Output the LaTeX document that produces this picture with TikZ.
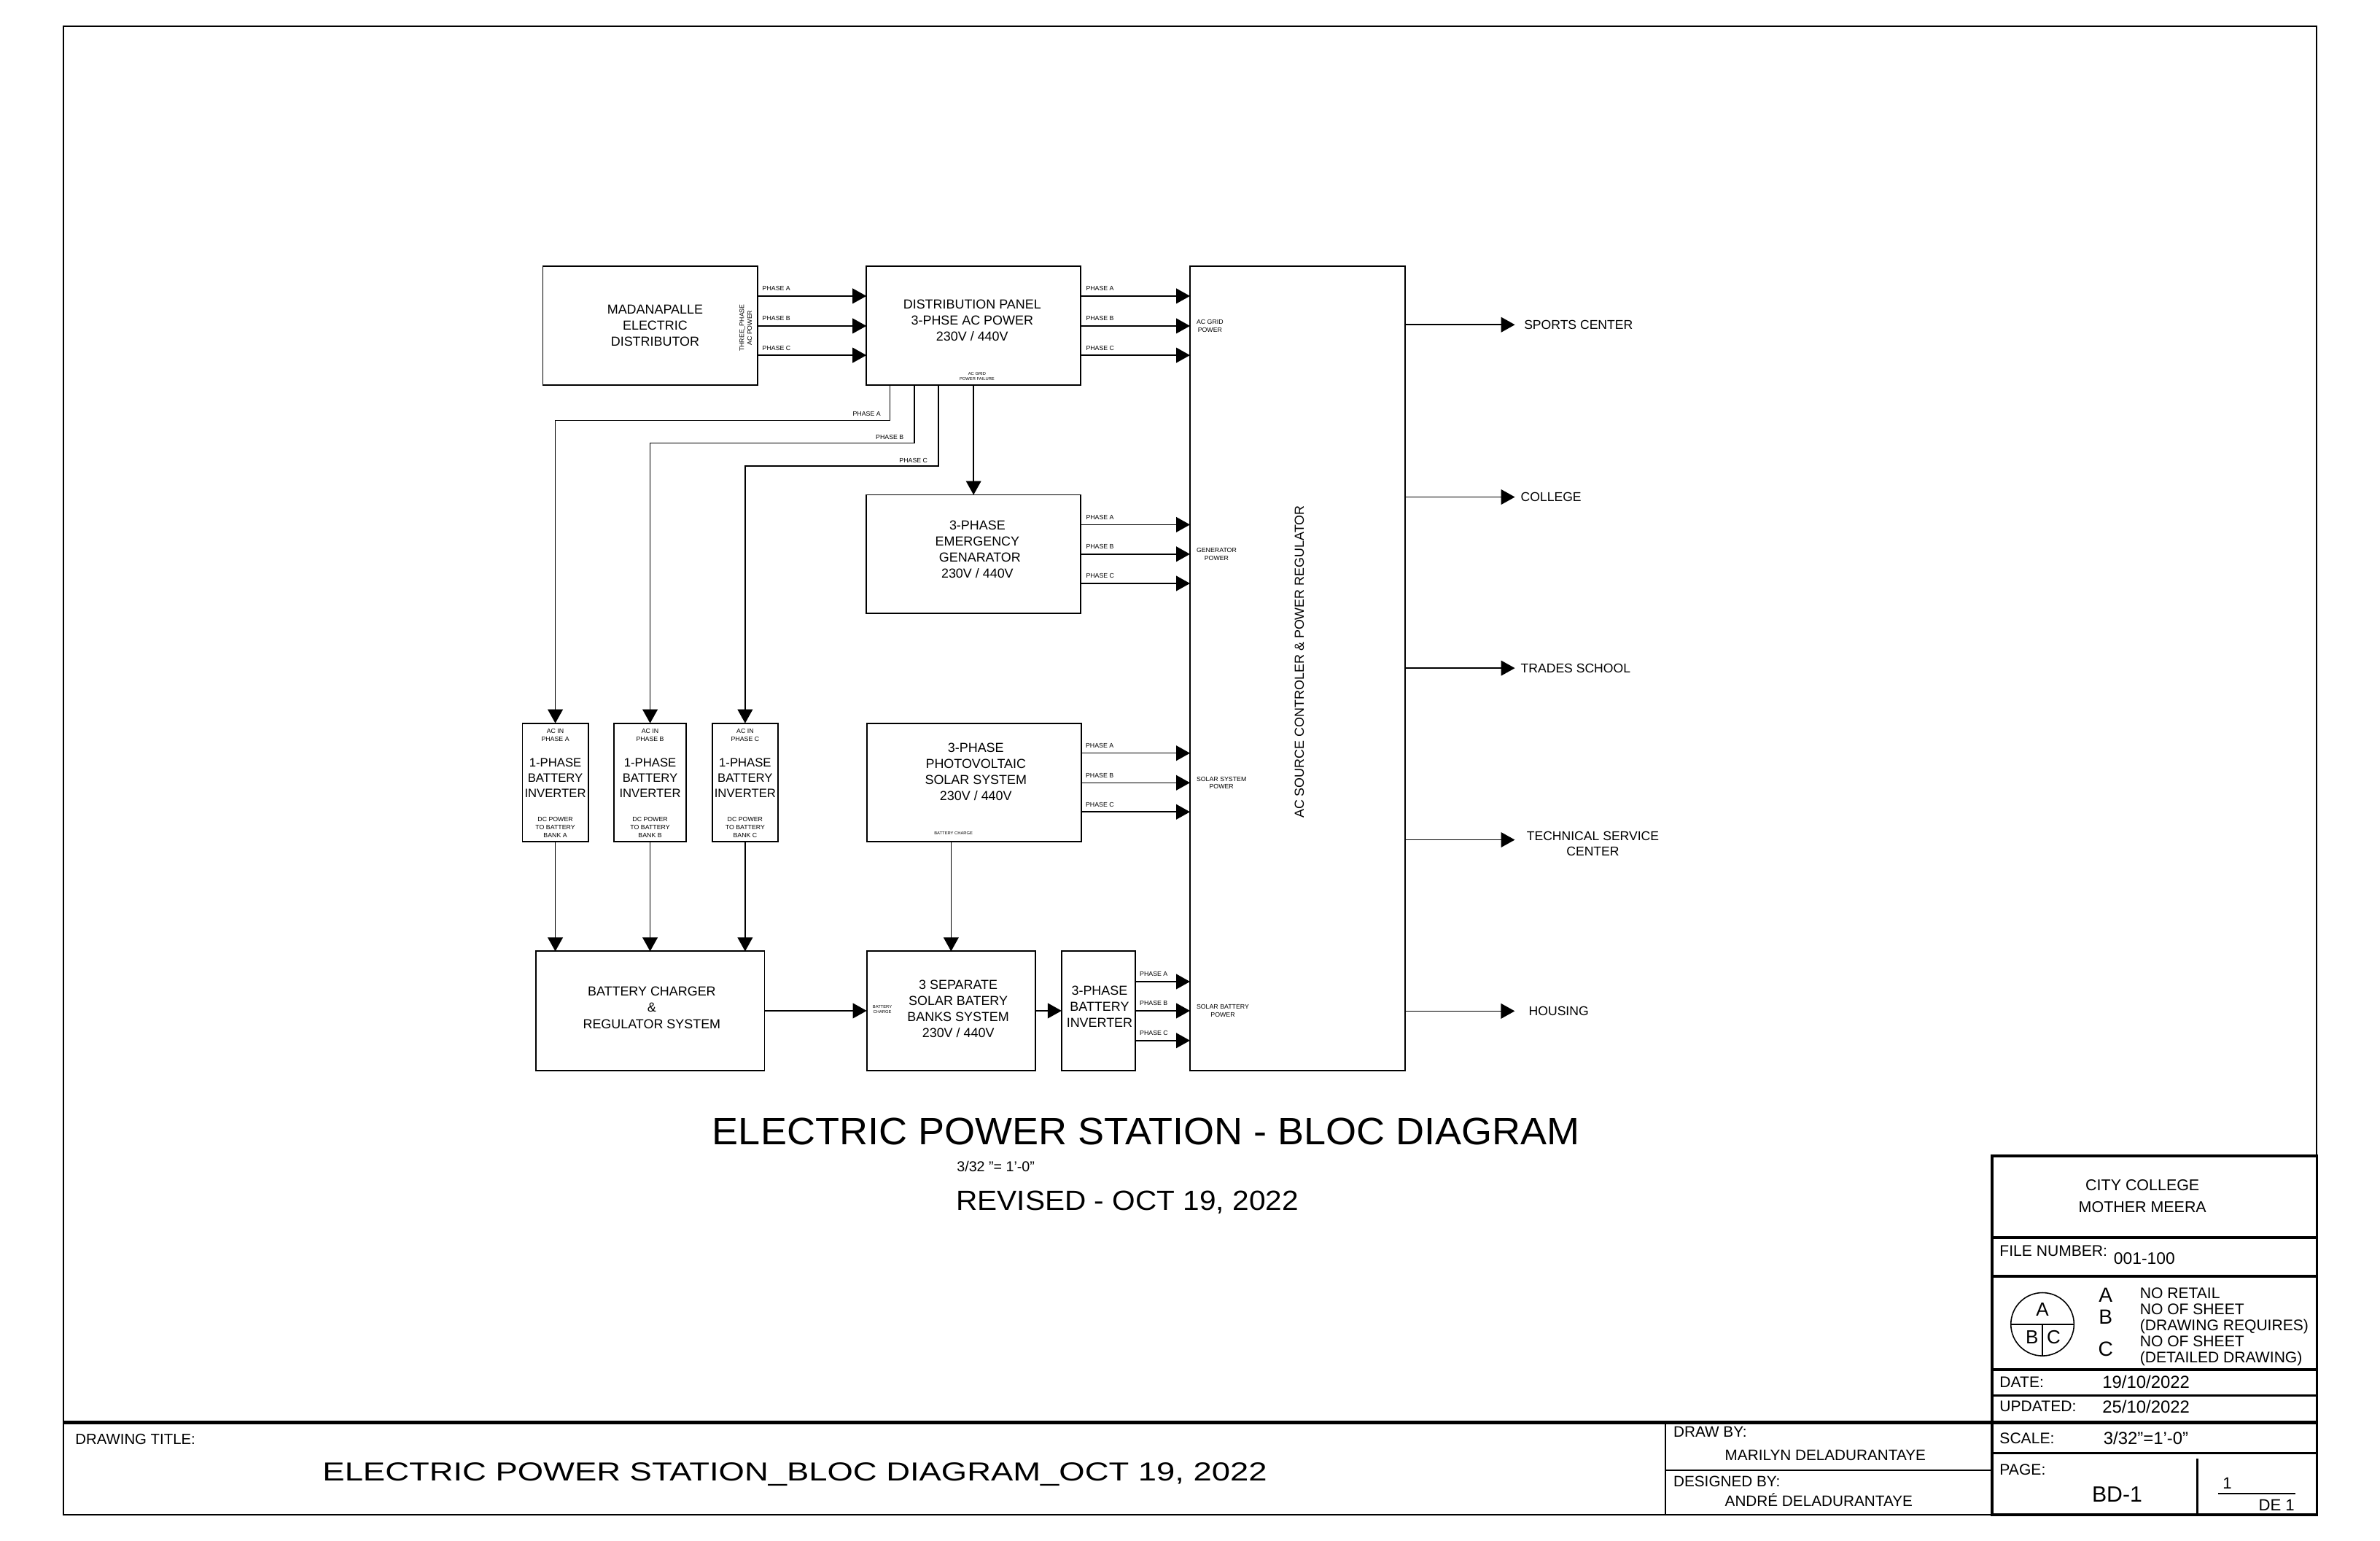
\documentclass[tikz,border=0pt]{standalone}
\usepackage{fontspec}
\setmainfont{Liberation Sans}
\usepackage{graphicx}
\usetikzlibrary{arrows.meta}
\newlength\ux
\setlength\ux{0.20816mm}
\newcommand\fitbox[3]{\resizebox{#1}{#2}{#3}}
\begin{document}
\begin{tikzpicture}[x=0.20816mm, y=-0.20816mm,
  box/.style={draw, line width=0.55pt, inner sep=0pt, outer sep=0pt},
  arr/.style={line width=0.45pt, -{Triangle[length=5.4pt,width=5.9pt]}},
  wire/.style={line width=0.45pt},
  lbl/.style={font=\fontsize{5.1}{6.3}\selectfont, align=center, inner sep=0pt},
  ilbl/.style={font=\fontsize{4.75}{6.1}\selectfont, align=center, inner sep=0pt},
  tiny/.style={font=\fontsize{2.5}{3.1}\selectfont, align=center, inner sep=0pt},
  micro/.style={font=\fontsize{1.65}{1.9}\selectfont, align=center, inner sep=0pt},
  ph/.style={font=\fontsize{2.5}{3}\selectfont, inner sep=0pt},
  dest/.style={font=\fontsize{5}{5.9}\selectfont, inner sep=0pt, align=center},
  tb/.style={font=\fontsize{6}{7}\selectfont, inner sep=0pt, text height=4.3pt, text depth=0pt},
  tbv/.style={font=\fontsize{6.8}{7.5}\selectfont, inner sep=0pt, text height=4.9pt, text depth=0pt},
  tbline/.style={line width=1.1pt},
  tbthin/.style={line width=0.75pt}
]
\fill[white] (0,0) rectangle (1568,1014.6);
\useasboundingbox (0,0) rectangle (1568,1014.6);

% ---------------- blocks ----------------
\node[box, minimum width=141.3\ux, minimum height=78.3\ux] (mad) at (428.3,214.7) {};
\node[box, minimum width=141.2\ux, minimum height=78.3\ux] (dist) at (641.4,214.7) {};
\node[box, minimum width=141.6\ux, minimum height=529.5\ux] (ac) at (854.8,440.3) {};
\node[box, minimum width=141.2\ux, minimum height=78.1\ux] (gen) at (641.4,365.0) {};
\node[box, minimum width=43.3\ux, minimum height=78.1\ux] (invA) at (365.85,515.45) {};
\node[box, minimum width=47.2\ux, minimum height=78.1\ux] (invB) at (428.3,515.45) {};
\node[box, minimum width=43.0\ux, minimum height=78.1\ux] (invC) at (490.9,515.45) {};
\node[box, minimum width=141.2\ux, minimum height=78.1\ux] (pv) at (641.6,515.45) {};
\node[box, minimum width=150.8\ux, minimum height=78.4\ux] (chg) at (428.3,665.8) {};
\node[box, minimum width=111.2\ux, minimum height=78.4\ux] (banks) at (626.6,665.8) {};
\node[box, minimum width=48.6\ux, minimum height=78.4\ux] (inv3) at (723.7,665.8) {};

% ---------------- block texts ----------------
\node[lbl] (madT) at (431.6,214.3) {MADANAPALLE\\ELECTRIC\\DISTRIBUTOR};
\node[lbl] (distT) at (640.5,210.9) {DISTRIBUTION PANEL\\3-PHSE AC POWER\\230V / 440V};
\node[lbl] (genT) at (643.9,361.9) {3-PHASE\\EMERGENCY\\\hspace*{2pt}GENARATOR\\230V / 440V};
\node[lbl] (pvT) at (642.9,508.4) {3-PHASE\\PHOTOVOLTAIC\\SOLAR SYSTEM\\230V / 440V};
\node[lbl] (chgT) at (429.4,663.8) {BATTERY CHARGER\\\&\\REGULATOR SYSTEM};
\node[lbl] (banksT) at (631.3,664.6) {3 SEPARATE\\SOLAR BATERY\\BANKS SYSTEM\\230V / 440V};
\node[lbl] (inv3T) at (724.4,663.2) {3-PHASE\\BATTERY\\INVERTER};
\node[lbl, rotate=90] (acT) at (856,436) {AC SOURCE CONTROLER \& POWER REGULATOR};

\foreach \n/\x/\p in {A/365.85/A,B/428.3/B,C/490.9/C}{
  \node[ilbl] (inv\n T) at (\x,512.4) {1-PHASE\\BATTERY\\INVERTER};
  \node[tiny] (inv\n in) at (\x,484.2) {AC IN\\PHASE \p};
  \node[tiny] (inv\n dc) at (\x,544.9) {DC POWER\\TO BATTERY\\BANK \p};
}

\node[tiny, rotate=90] (madout) at (491.3,216) {THREE\_PHASE\\AC POWER};
\node[micro] (fail) at (643.7,247.9) {AC GRID\\POWER FAILURE};
\node[micro] (pvch) at (628.2,549) {BATTERY CHARGE};
\node[micro] (bkch) at (581.3,665) {BATTERY\\CHARGE};

\node[tiny, anchor=west] (acin1) at (788,214.8) {AC GRID\\POWER};
\node[tiny, anchor=west] (acin2) at (788,365.0) {GENERATOR\\POWER};
\node[tiny, anchor=west] (acin3) at (788,515.7) {SOLAR SYSTEM\\POWER};
\node[tiny, anchor=west] (acin4) at (788,666.0) {SOLAR BATTERY\\POWER};

% ---------------- three-phase buses ----------------
\foreach \y/\p in {195.0/A,214.7/B,234.0/C}{
  \draw[arr] (mad.east |- 0,\y) -- (dist.west |- 0,\y);
  \node[ph, anchor=base west] (mp\p) at (502,\y-3.4) {PHASE \p};
  \draw[arr] (dist.east |- 0,\y) -- (ac.west |- 0,\y);
  \node[ph, anchor=base west] (dp\p) at (715.2,\y-3.4) {PHASE \p};
}
\foreach \y/\p in {345.6/A,365.0/B,384.3/C}{
  \draw[arr] (gen.east |- 0,\y) -- (ac.west |- 0,\y);
  \node[ph, anchor=base west] (gp\p) at (715.2,\y-3.4) {PHASE \p};
}
\foreach \y/\p in {496.1/A,515.6/B,534.8/C}{
  \draw[arr] (pv.east |- 0,\y) -- (ac.west |- 0,\y);
  \node[ph, anchor=base west] (sp\p) at (715.0,\y-3.4) {PHASE \p};
}
\foreach \y/\p in {646.6/A,665.8/B,685.4/C}{
  \draw[arr] (inv3.east |- 0,\y) -- (ac.west |- 0,\y);
  \node[ph, anchor=base west] (ip\p) at (750.6,\y-3.4) {PHASE \p};
}

% ---------------- feeds to the single-phase inverters ----------------
\draw[arr] (586.3,0 |- dist.south) |- (invA.north |- 0,277.0) -- (invA.north);
\draw[arr] (602.4,0 |- dist.south) |- (invB.north |- 0,291.8) -- (invB.north);
\draw[arr] (618.2,0 |- dist.south) |- (invC.north |- 0,307.1) -- (invC.north);
\node[ph, anchor=base east] (fpA) at (580.5,274.0) {PHASE A};
\node[ph, anchor=base east] (fpB) at (595.7,289.6) {PHASE B};
\node[ph, anchor=base east] (fpC) at (611.4,304.6) {PHASE C};

\draw[arr] (dist.south) -- (gen.north);
\draw[arr] (invA.south) -- (invA.south |- chg.north);
\draw[arr] (invB.south) -- (invB.south |- chg.north);
\draw[arr] (invC.south) -- (invC.south |- chg.north);
\draw[arr] (banks.north |- pv.south) -- (banks.north);
\draw[arr] (chg.east) -- (banks.west);
\draw[arr] (banks.east) -- (inv3.west);

% ---------------- outputs ----------------
\node[dest, anchor=west] (sports) at (1003.8,213.9) {SPORTS CENTER};
\node[dest, anchor=west] (college) at (1001.6,327.4) {COLLEGE};
\node[dest, anchor=west] (trades) at (1001.6,440.1) {TRADES SCHOOL};
\node[dest, anchor=north] (tech) at (1049.4,547.4) {TECHNICAL SERVICE\\CENTER};
\node[dest, anchor=west] (housing) at (1006.9,666.0) {HOUSING};
\coordinate (techin) at (998,553.2);
\draw[arr, shorten >=3.4pt] (ac.east |- sports.west) -- (sports.west);
\draw[arr, shorten >=2.1pt] (ac.east |- college.west) -- (college.west);
\draw[arr, shorten >=2.1pt] (ac.east |- trades.west) -- (trades.west);
\draw[arr] (ac.east |- techin) -- (techin);
\draw[arr, shorten >=5.3pt] (ac.east |- housing.west) -- (housing.west);

% ---------------- titles ----------------
\node[inner sep=0pt, anchor=base] (title) at (755.1,754.2) {\fitbox{338.5pt}{10.4pt}{ELECTRIC POWER STATION - BLOC DIAGRAM}};
\node[inner sep=0pt, anchor=base west, font=\fontsize{5.6}{6}\selectfont] (scl) at (630.1,771.8) {3/32 "= 1'-0"};
\node[inner sep=0pt, anchor=base west] (rev) at (629.7,797.0) {\fitbox{133.5pt}{7.55pt}{REVISED - OCT 19, 2022}};

% ---------------- sheet frame ----------------
\draw[line width=0.6pt] (41.6,17.3) rectangle (1526.4,997.6);
\draw[line width=1.4pt] (41.6,936.8) -- (1526.4,936.8);
\draw[tbline] (1312.3,761.4) rectangle (1526.4,997.6);
\draw[tbline] (1312.3,815.1) -- (1526.4,815.1);
\draw[tbline] (1312.3,840.7) -- (1526.4,840.7);
\draw[tbline] (1312.3,902.3) -- (1526.4,902.3);
\draw[tbline] (1312.3,919.2) -- (1526.4,919.2);
\draw[tbthin] (1312.3,957.3) -- (1526.4,957.3);
\draw[tbthin] (1447.5,960.8) -- (1447.5,997.6);
\draw[tbthin] (1097.2,936.8) -- (1097.2,997.6);
\draw[tbthin] (1097.2,968.5) -- (1312.3,968.5);

% bottom strip texts
\node[tb, anchor=west, font=\fontsize{5.8}{6}\selectfont, text height=4.15pt] (dtl) at (49.3,947.7) {DRAWING TITLE:};
\node[inner sep=0pt, anchor=base] (dtitle) at (523.65,975.2) {\fitbox{368.5pt}{7.1pt}{ELECTRIC POWER STATION\_BLOC DIAGRAM\_OCT 19, 2022}};
\node[tb, anchor=west, font=\fontsize{5.9}{6}\selectfont] (drawby) at (1102.2,943.2) {DRAW BY:};
\node[tb, anchor=west, font=\fontsize{5.9}{6}\selectfont] (drawer) at (1136.1,958.4) {MARILYN DELADURANTAYE};
\node[tb, anchor=west, font=\fontsize{5.9}{6}\selectfont] (desby) at (1102.2,975.5) {DESIGNED BY:};
\node[tb, anchor=west, font=\fontsize{5.9}{6}\selectfont] (designer) at (1136.1,988.8) {ANDRÉ DELADURANTAYE};

% right column texts
\node[inner sep=0pt, align=center, font=\fontsize{6.1}{8.4}\selectfont] (school) at (1411.5,787.9) {CITY COLLEGE\\MOTHER MEERA};
\node[tb, anchor=west] (fnl) at (1317.1,824.0) {FILE NUMBER:};
\node[tbv, anchor=west, font=\fontsize{6.5}{7}\selectfont, text height=4.65pt] (fnv) at (1392.3,828.7) {001-100};

\node[draw, circle, line width=0.45pt, minimum size=41.6\ux, inner sep=0pt] (circ) at (1345.6,872.3) {};
\draw[line width=0.45pt] (circ.west) -- (circ.east);
\draw[line width=0.45pt] (circ.center) -- (circ.south);
\node[inner sep=0pt, font=\fontsize{7.4}{8}\selectfont, text height=5.3pt, text depth=0pt] (cA) at (1345.6,862.4) {A};
\node[inner sep=0pt, font=\fontsize{7.4}{8}\selectfont, text height=5.3pt, text depth=0pt] (cB) at (1338.7,880.6) {B};
\node[inner sep=0pt, font=\fontsize{7.4}{8}\selectfont, text height=5.3pt, text depth=0pt] (cC) at (1353.0,880.6) {C};
\node[inner sep=0pt, font=\fontsize{8}{8}\selectfont, text height=5.7pt, text depth=0pt] (kA) at (1387.2,852.7) {A};
\node[inner sep=0pt, font=\fontsize{8}{8}\selectfont, text height=5.7pt, text depth=0pt] (kB) at (1387.2,867.1) {B};
\node[inner sep=0pt, font=\fontsize{8}{8}\selectfont, text height=5.7pt, text depth=0pt] (kC) at (1387.2,888.7) {C};
\node[tb, anchor=west] (n1) at (1409.5,851.9) {NO RETAIL};
\node[tb, anchor=west] (n2) at (1409.5,862.3) {NO OF SHEET};
\node[tb, anchor=west] (n3) at (1409.5,873.0) {(DRAWING REQUIRES)};
\node[tb, anchor=west] (n4) at (1409.5,883.6) {NO OF SHEET};
\node[tb, anchor=west] (n5) at (1409.5,893.9) {(DETAILED DRAWING)};

\node[tb, anchor=west] (datel) at (1317.1,910.3) {DATE:};
\node[tbv, anchor=west] (datev) at (1384.8,910.3) {19/10/2022};
\node[tb, anchor=west] (updl) at (1317.1,926.4) {UPDATED:};
\node[tbv, anchor=west] (updv) at (1384.8,926.4) {25/10/2022};
\node[tb, anchor=west] (scalel) at (1317.1,947.2) {SCALE:};
\node[tbv, anchor=west] (scalev) at (1385.5,947.2) {3/32"=1'-0"};
\node[tb, anchor=west] (pagel) at (1317.1,968.0) {PAGE:};
\node[inner sep=0pt, anchor=west, font=\fontsize{8.6}{9}\selectfont, text height=6.15pt, text depth=0pt] (pagev) at (1377.9,984.0) {BD-1};
\node[tb, font=\fontsize{6.3}{7}\selectfont, text height=4.5pt] (fr1) at (1467.3,976.8) {1};
\draw[line width=0.6pt] (1461.2,984.0) -- (1512.2,984.0);
\node[tb, anchor=east, font=\fontsize{6.3}{7}\selectfont, text height=4.5pt] (fr2) at (1512.0,991.2) {DE 1};
\end{tikzpicture}
\end{document}
